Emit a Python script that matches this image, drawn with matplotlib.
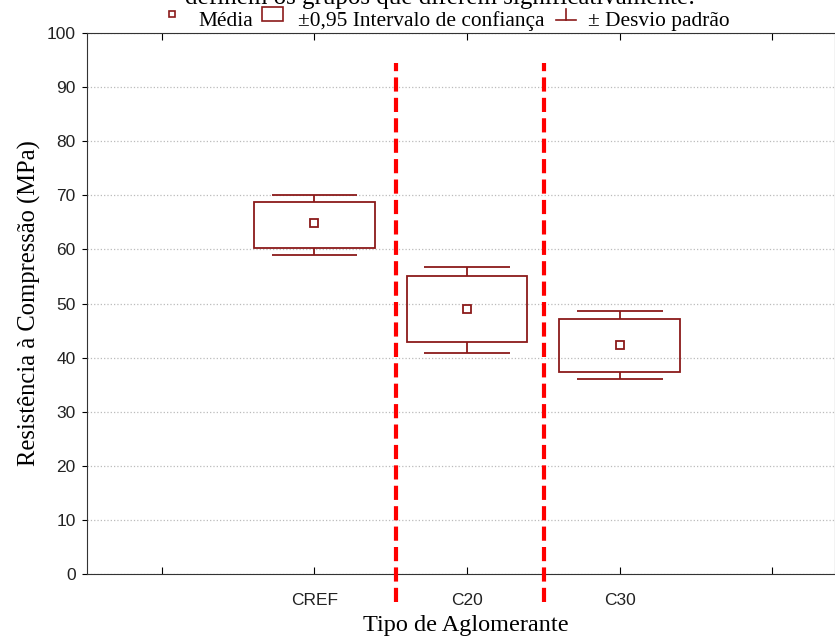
import matplotlib.pyplot as plt
from matplotlib.lines import Line2D
from matplotlib.patches import Rectangle

categories = ['CREF', 'C20', 'C30']
positions = [1, 2, 3]
means = [64.8, 49.0, 42.4]
ci_low = [60.2, 42.8, 37.3]
ci_high = [68.8, 55.1, 47.1]
sd_low = [59.0, 40.8, 36.0]
sd_high = [70.1, 56.8, 48.7]
group_separators = [1.535, 2.505]

W, H = 835, 641
box_color = '#8b1a1a'
serif = 'Liberation Serif'
sans = 'Liberation Sans'

fig = plt.figure(figsize=(W / 100, H / 100), dpi=100)
ax = fig.add_axes([87 / W, 1 - 574 / H, 1 - 87 / W, (574 - 33) / H])

# boxes (confidence interval)
heights = [h - l for h, l in zip(ci_high, ci_low)]
ax.bar(positions, heights, bottom=ci_low, width=0.79, fill=False,
       edgecolor=box_color, linewidth=1.3, zorder=3)
# whiskers (std dev)
ax.vlines(positions, ci_high, sd_high, colors=box_color, linewidth=1.3, zorder=3)
ax.vlines(positions, sd_low, ci_low, colors=box_color, linewidth=1.3, zorder=3)
caps = [p - 0.28 for p in positions], [p + 0.28 for p in positions]
ax.hlines(sd_high, caps[0], caps[1], colors=box_color, linewidth=1.3, zorder=3)
ax.hlines(sd_low, caps[0], caps[1], colors=box_color, linewidth=1.3, zorder=3)
# means
ax.plot(positions, means, linestyle='none', marker='s', markersize=5.5,
        markerfacecolor='white', markeredgecolor=box_color, markeredgewidth=1.3, zorder=4)

# separators between homogeneous groups
ax.vlines(group_separators, -5.2, 94.5, colors='red', linewidth=3,
          linestyles=(0, (3.4, 1.5)), clip_on=False, zorder=5)

ax.set_xlim(-0.49, 4.41)
ax.set_ylim(0, 100)
ax.set_yticks(range(0, 101, 10))
ax.set_xticks([0, 1, 2, 3, 4])
ax.set_xticklabels(['', 'CREF', 'C20', 'C30', ''])
ax.tick_params(axis='x', direction='in', top=True, length=5, pad=14, labelsize=12.5)
ax.tick_params(axis='y', direction='out', length=3.6, labelsize=12.5, pad=4.5)
for lab in ax.get_xticklabels() + ax.get_yticklabels():
    lab.set_fontfamily(sans)
    lab.set_color('#222222')
ax.yaxis.grid(True, linestyle=':', color='#bbbbbb', linewidth=0.9)
ax.set_axisbelow(True)
for s in ax.spines.values():
    s.set_color('#333333')

ax.set_xlabel('Tipo de Aglomerante', fontfamily=serif, fontsize=17.5, labelpad=7)
ax.xaxis.set_label_coords(0.507, -0.075)
ax.set_ylabel('Resistência à Compressão (MPa)', fontfamily=serif, fontsize=17.7, labelpad=4)

# cut-off title
fig.text(440 / W, 1 - 4 / H, 'definem os grupos que diferem significativamente:',
         fontfamily=serif, fontsize=18, ha='center', va='baseline')

# legend
def px(x, y):
    return x / W, 1 - y / H

fig.add_artist(Line2D(*zip(px(172, 14)), marker='s', markersize=4.3, markerfacecolor='white',
                      markeredgecolor=box_color, markeredgewidth=1.2, linestyle='none'))
fig.text(*px(198, 26), 'Média', fontfamily=serif, fontsize=15.4, va='baseline')
x0, y0 = px(262, 21)
fig.add_artist(Rectangle((x0, y0), 21 / W, 14 / H, fill=False, edgecolor=box_color,
                         linewidth=1.2, transform=fig.transFigure))
fig.text(*px(298, 26), '±0,95 Intervalo de confiança', fontfamily=serif, fontsize=15.4, va='baseline')
xa, ya = px(556, 20)
xb, yb = px(576, 9)
fig.add_artist(Line2D([xa, xb], [ya, ya], color=box_color, linewidth=1.2))
xm = (xa + xb) / 2
fig.add_artist(Line2D([xm, xm], [ya, yb], color=box_color, linewidth=1.2))
fig.text(*px(588, 26), '± Desvio padrão', fontfamily=serif, fontsize=15.4, va='baseline')

fig.savefig('out.png', dpi=100)
